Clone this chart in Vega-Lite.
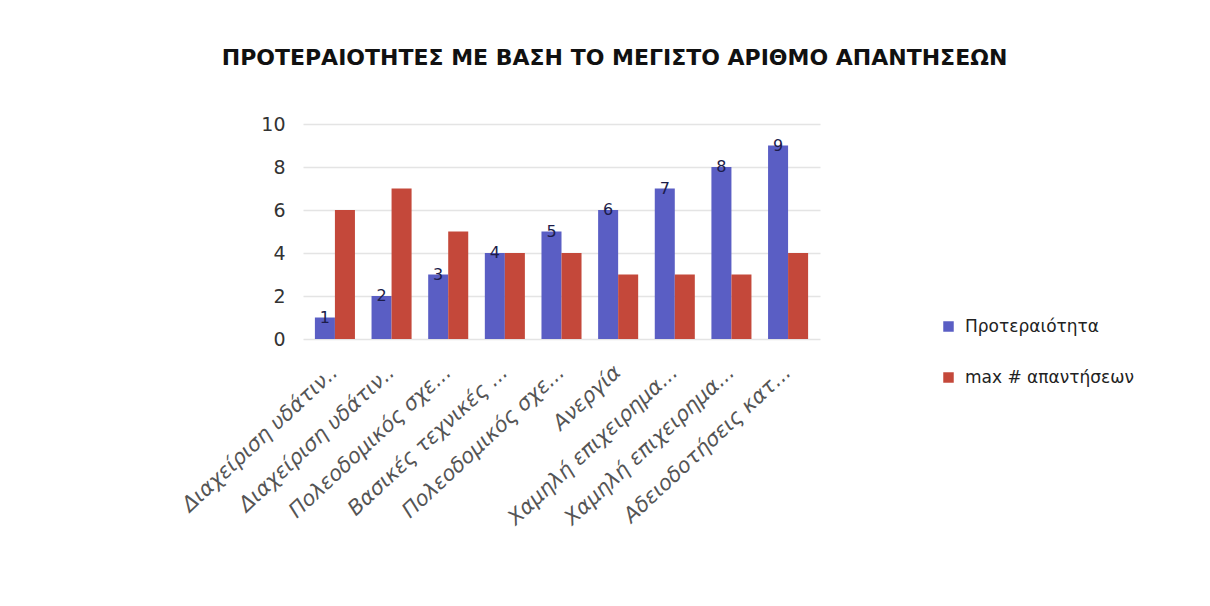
{
  "$schema": "https://vega.github.io/schema/vega-lite/v6.json",
  "width": 517,
  "height": 215,
  "autosize": {"type": "none"},
  "padding": {"left": 303, "top": 124, "right": 390, "bottom": 267},
  "background": "#ffffff",
  "title": {
    "text": "ΠΡΟΤΕΡΑΙΟΤΗΤΕΣ ΜΕ ΒΑΣΗ ΤΟ ΜΕΓΙΣΤΟ ΑΡΙΘΜΟ ΑΠΑΝΤΗΣΕΩΝ",
    "font": "DejaVu Sans",
    "fontSize": 22,
    "fontWeight": "bold",
    "color": "#111111",
    "anchor": "middle",
    "dx": 53,
    "offset": 45
  },
  "data": {
    "values": [
      {"cat": "1|Διαχείριση υδάτιν..", "series": "Προτεραιότητα", "value": 1},
      {"cat": "1|Διαχείριση υδάτιν..", "series": "max # απαντήσεων", "value": 6},
      {"cat": "2|Διαχείριση υδάτιν..", "series": "Προτεραιότητα", "value": 2},
      {"cat": "2|Διαχείριση υδάτιν..", "series": "max # απαντήσεων", "value": 7},
      {"cat": "3|Πολεοδομικός σχε...", "series": "Προτεραιότητα", "value": 3},
      {"cat": "3|Πολεοδομικός σχε...", "series": "max # απαντήσεων", "value": 5},
      {"cat": "4|Βασικές τεχνικές ...", "series": "Προτεραιότητα", "value": 4},
      {"cat": "4|Βασικές τεχνικές ...", "series": "max # απαντήσεων", "value": 4},
      {"cat": "5|Πολεοδομικός σχε...", "series": "Προτεραιότητα", "value": 5},
      {"cat": "5|Πολεοδομικός σχε...", "series": "max # απαντήσεων", "value": 4},
      {"cat": "6|Ανεργία", "series": "Προτεραιότητα", "value": 6},
      {"cat": "6|Ανεργία", "series": "max # απαντήσεων", "value": 3},
      {"cat": "7|Χαμηλή επιχειρημα...", "series": "Προτεραιότητα", "value": 7},
      {"cat": "7|Χαμηλή επιχειρημα...", "series": "max # απαντήσεων", "value": 3},
      {"cat": "8|Χαμηλή επιχειρημα...", "series": "Προτεραιότητα", "value": 8},
      {"cat": "8|Χαμηλή επιχειρημα...", "series": "max # απαντήσεων", "value": 3},
      {"cat": "9|Αδειοδοτήσεις κατ...", "series": "Προτεραιότητα", "value": 9},
      {"cat": "9|Αδειοδοτήσεις κατ...", "series": "max # απαντήσεων", "value": 4}
    ]
  },
  "encoding": {
    "x": {
      "field": "cat",
      "type": "nominal",
      "sort": "ascending",
      "scale": {"paddingInner": 0.293, "paddingOuter": 0.21},
      "axis": {
        "title": null,
        "labelExpr": "split(datum.label, '|')[1]",
        "labelAngle": -43,
        "labelAlign": "right",
        "labelBaseline": "middle",
        "labelFont": "DejaVu Sans",
        "labelFontSize": 21,
        "labelFontStyle": "italic",
        "labelColor": "#555555",
        "labelPadding": 30,
        "labelOverlap": false,
        "labelLimit": 400,
        "domain": false,
        "ticks": false
      }
    },
    "xOffset": {
      "field": "series",
      "type": "nominal",
      "sort": ["Προτεραιότητα", "max # απαντήσεων"],
      "scale": {"paddingInner": 0, "paddingOuter": 0}
    },
    "y": {
      "field": "value",
      "type": "quantitative",
      "scale": {"domain": [0, 10]},
      "axis": {
        "title": null,
        "values": [0, 2, 4, 6, 8, 10],
        "labelFont": "DejaVu Sans",
        "labelFontSize": 19,
        "labelColor": "#333333",
        "labelPadding": 18,
        "domain": false,
        "ticks": false,
        "gridColor": "#e4e4e4",
        "gridWidth": 1.5
      }
    }
  },
  "layer": [
    {
      "mark": {"type": "bar"},
      "encoding": {
        "color": {
          "field": "series",
          "type": "nominal",
          "sort": ["Προτεραιότητα", "max # απαντήσεων"],
          "scale": {"domain": ["Προτεραιότητα", "max # απαντήσεων"], "range": ["#5a5ec4", "#c4483a"]},
          "legend": {
            "title": null,
            "orient": "none",
            "legendX": 637,
            "legendY": 194,
            "symbolType": "square",
            "symbolSize": 110,
            "symbolStrokeWidth": 0,
            "labelFont": "DejaVu Sans",
            "labelFontSize": 17,
            "labelLimit": 400,
            "labelColor": "#222222",
            "rowPadding": 33,
            "labelOffset": 8
          }
        }
      }
    },
    {
      "transform": [{"filter": "datum.series === 'Προτεραιότητα'"}],
      "mark": {"type": "text", "baseline": "middle", "dy": 0, "font": "DejaVu Sans", "fontSize": 16, "color": "#1c1c4a"},
      "encoding": {
        "text": {"field": "value", "type": "quantitative"}
      }
    }
  ],
  "config": {"view": {"stroke": null}}
}
